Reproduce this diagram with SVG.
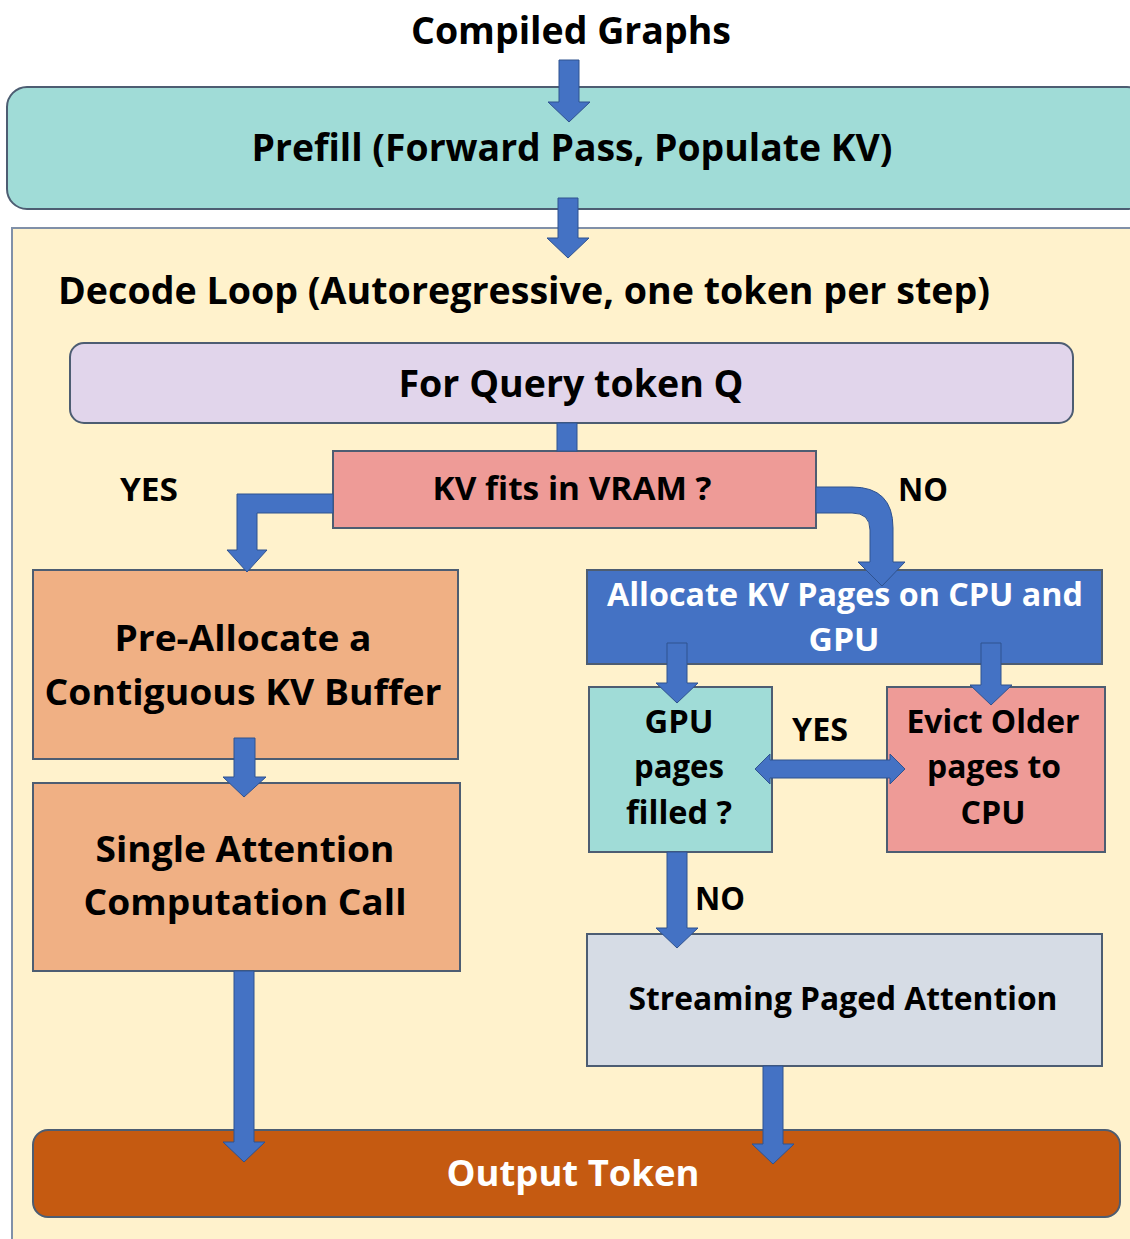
<svg xmlns="http://www.w3.org/2000/svg" width="1130" height="1239" viewBox="0 0 1130 1239">
<style>
.t{font-family:"Open Sans","Noto Sans","Liberation Sans",sans-serif;font-weight:700;fill:#000;text-anchor:middle}
.w{fill:#fff}
.box{stroke:#4d5d72;stroke-width:2}
.arr{fill:#4472c4;stroke:#2f528f;stroke-width:1;stroke-linejoin:miter}
</style>
<rect width="1130" height="1239" fill="#fff"/>
<g id="compiled"><text class="t" x="571" y="44" font-size="37" textLength="320" lengthAdjust="spacingAndGlyphs">Compiled Graphs</text></g>
<g id="prefill"><rect class="box" x="7" y="87" width="1140" height="122" rx="20" fill="#a0dcd7"/>
<text class="t" x="572" y="161" font-size="38" textLength="641" lengthAdjust="spacingAndGlyphs">Prefill (Forward Pass, Populate KV)</text></g>
<g id="decode"><rect x="12" y="228" width="1140" height="1030" fill="#fff2cc" stroke="#8090a8" stroke-width="2"/>
<text class="t" x="524" y="304" font-size="38" textLength="932" lengthAdjust="spacingAndGlyphs">Decode Loop (Autoregressive, one token per step)</text></g>
<g id="query"><rect class="box" x="70" y="343" width="1003" height="80" rx="14" fill="#e1d5eb"/>
<text class="t" x="571" y="397" font-size="37" textLength="345" lengthAdjust="spacingAndGlyphs">For Query token Q</text></g>
<g id="kvfits"><rect class="box" x="333" y="451" width="483" height="77" fill="#ee9b97"/>
<text class="t" x="572" y="500" font-size="33" textLength="279" lengthAdjust="spacingAndGlyphs">KV fits in VRAM ?</text></g>
<g id="prealloc"><rect class="box" x="33" y="570" width="425" height="189" fill="#f0b084"/>
<text class="t" x="243" y="651" font-size="36" textLength="257" lengthAdjust="spacingAndGlyphs">Pre-Allocate a</text>
<text class="t" x="243" y="705" font-size="36" textLength="397" lengthAdjust="spacingAndGlyphs">Contiguous KV Buffer</text></g>
<g id="single"><rect class="box" x="33" y="783" width="427" height="188" fill="#f0b084"/>
<text class="t" x="245" y="862" font-size="36" textLength="299" lengthAdjust="spacingAndGlyphs">Single Attention</text>
<text class="t" x="245" y="915" font-size="36" textLength="323" lengthAdjust="spacingAndGlyphs">Computation Call</text></g>
<g id="allocate"><rect class="box" x="587" y="570" width="515" height="94" fill="#4472c4"/>
<text class="t w" x="845" y="606" font-size="33" textLength="476" lengthAdjust="spacingAndGlyphs">Allocate KV Pages on CPU and</text>
<text class="t w" x="844" y="651" font-size="33" textLength="71" lengthAdjust="spacingAndGlyphs">GPU</text></g>
<g id="gpupages"><rect class="box" x="589" y="687" width="183" height="165" fill="#a0dcd7"/>
<text class="t" x="679" y="733" font-size="33" textLength="69" lengthAdjust="spacingAndGlyphs">GPU</text>
<text class="t" x="679" y="778" font-size="33" textLength="90" lengthAdjust="spacingAndGlyphs">pages</text>
<text class="t" x="679" y="824" font-size="33" textLength="106" lengthAdjust="spacingAndGlyphs">filled ?</text></g>
<g id="evict"><rect class="box" x="887" y="687" width="218" height="165" fill="#ee9b97"/>
<text class="t" x="993" y="733" font-size="33" textLength="173" lengthAdjust="spacingAndGlyphs">Evict Older</text>
<text class="t" x="994" y="778" font-size="33" textLength="134" lengthAdjust="spacingAndGlyphs">pages to</text>
<text class="t" x="993" y="824" font-size="33" textLength="65" lengthAdjust="spacingAndGlyphs">CPU</text></g>
<g id="streaming"><rect class="box" x="587" y="934" width="515" height="132" fill="#d6dce5"/>
<text class="t" x="843" y="1010" font-size="33" textLength="429" lengthAdjust="spacingAndGlyphs">Streaming Paged Attention</text></g>
<g id="output"><rect class="box" x="33" y="1130" width="1087" height="87" rx="15" fill="#c55a11"/>
<text class="t w" x="573" y="1186" font-size="36" textLength="253" lengthAdjust="spacingAndGlyphs">Output Token</text></g>
<g id="labels">
<text class="t" x="149" y="501" font-size="32" textLength="58" lengthAdjust="spacingAndGlyphs">YES</text>
<text class="t" x="923" y="501" font-size="32" textLength="50" lengthAdjust="spacingAndGlyphs">NO</text>
<text class="t" x="820" y="741" font-size="32" textLength="56" lengthAdjust="spacingAndGlyphs">YES</text>
<text class="t" x="720" y="910" font-size="32" textLength="50" lengthAdjust="spacingAndGlyphs">NO</text>
</g>
<g id="connectors">
<polygon class="arr" points="559,60 579,60 579,102 590,102 569,122 548,102 559,102"/>
<polygon class="arr" points="558,198 578,198 578,238 589,238 568,258 547,238 558,238"/>
<rect class="arr" x="557" y="423" width="20" height="28"/>
<polygon class="arr" points="333,494 237,494 237,550 227,550 247,572 267,550 257,550 257,513 333,513"/>
<path class="arr" d="M816,487 L852,487 Q893,487 893,528 L893,562 L905,562 L882,586 L858,562 L870,562 L870,530 Q870,513 852,513 L816,513 Z"/>
<polygon class="arr" points="234,738 255,738 255,777 266,777 244,797 223,777 234,777"/>
<polygon class="arr" points="234,971 254,971 254,1142 265,1142 244,1162 223,1142 234,1142"/>
<polygon class="arr" points="667,643 687,643 687,683 698,683 677,703 656,683 667,683"/>
<polygon class="arr" points="981,643 1001,643 1001,685 1012,685 991,705 970,685 981,685"/>
<polygon class="arr" points="755,769 770,754 770,760 890,760 890,754 905,769 890,784 890,778 770,778 770,784"/>
<polygon class="arr" points="667,852 687,852 687,928 698,928 677,948 656,928 667,928"/>
<polygon class="arr" points="763,1066 783,1066 783,1144 794,1144 773,1164 752,1144 763,1144"/>
</g>
</svg>
